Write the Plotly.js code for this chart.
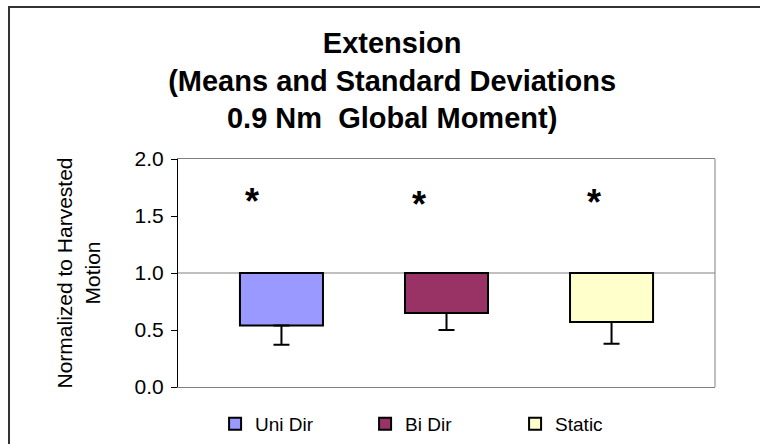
<!DOCTYPE html>
<html>
<head>
<meta charset="utf-8">
<script src="https://cdn.plot.ly/plotly-3.0.1.min.js"></script>
<style>
html,body{margin:0;padding:0;background:#fff;}
#chart{width:760px;height:444px;}
</style>
</head>
<body>
<div id="chart"></div>
<script>
// ---- data ----
var seriesNames = ["Uni Dir", "Bi Dir", "Static"];
var means = [0.54, 0.65, 0.57];
var stdDevs = [0.17, 0.15, 0.19];
var baseline = 1.0;           // value where the category axis crosses
var group = ["Extension"];    // single category
var seriesColors = ["#9999FF", "#993366", "#FFFFCC"];
var starLabels = ["*", "*", "*"];
var starY = [1.673, 1.646, 1.664];
var starXPaper = [0.138, 0.449, 0.775];
var yTickVals = [0, 0.5, 1.0, 1.5, 2.0];

var FONT = "Liberation Sans, Arial, sans-serif";

var traces = seriesNames.map(function (nm, i) {
  return {
    type: "bar",
    name: nm,
    x: group,
    y: [means[i] - baseline],
    base: [baseline],
    marker: { color: seriesColors[i], line: { color: "#000", width: 2 } },
    error_y: {
      type: "data", symmetric: false,
      array: [0], arrayminus: [stdDevs[i]],
      color: "#000", thickness: 2, width: 8
    },
    hoverinfo: "skip"
  };
});

var annotations = starLabels.map(function (s, i) {
  return {
    xref: "paper", yref: "y", x: starXPaper[i], y: starY[i],
    text: "<b>" + s + "</b>", showarrow: false, xanchor: "center", yanchor: "middle",
    font: { family: FONT, size: 36, color: "#000" }, yshift: -5
  };
});

var layout = {
  width: 760, height: 444,
  margin: { l: 178, r: 45, t: 159, b: 57, pad: 0, autoexpand: false },
  paper_bgcolor: "#fff", plot_bgcolor: "#fff",
  font: { family: FONT, color: "#000" },
  title: {
    text: "<b>Extension<br>(Means and Standard Deviations<br>0.9 Nm  Global Moment)</b>",
    font: { family: FONT, size: 29, color: "#000" },
    xref: "container", yref: "container", x: 0.516, y: 0.881,
    xanchor: "center", yanchor: "middle"
  },
  barmode: "group", bargap: 0.078, bargroupgap: 0.497,
  showlegend: true,
  legend: {
    orientation: "h", xref: "container", yref: "container",
    x: 0.283, xanchor: "left", y: 0.045, yanchor: "middle",
    font: { family: FONT, size: 19, color: "#000" },
    entrywidth: 105, traceorder: "normal", bgcolor: "rgba(0,0,0,0)"
  },
  xaxis: {
    type: "category", showticklabels: false, ticks: "",
    showgrid: false, zeroline: false,
    showline: true, mirror: true, linecolor: "#808080", linewidth: 1,
    fixedrange: true
  },
  yaxis: {
    range: [0, 2], tickvals: yTickVals, tickformat: ".1f",
    ticks: "outside", ticklen: 6, tickwidth: 1, tickcolor: "#000",
    ticklabelstandoff: 3,
    tickfont: { family: FONT, size: 21, color: "#000" },
    showgrid: false, zeroline: false,
    showline: true, linecolor: "#000", linewidth: 1,
    title: {
      text: "Normalized to Harvested<br>Motion",
      font: { family: FONT, size: 21, color: "#000" },
      standoff: 28
    },
    fixedrange: true
  },
  shapes: [
    { type: "line", xref: "paper", yref: "paper", x0: 1, x1: 1, y0: 0, y1: 1,
      line: { color: "#808080", width: 1 } },
    { type: "line", xref: "paper", yref: "y", x0: 0, x1: 1, y0: baseline, y1: baseline,
      line: { color: "#808080", width: 1 }, layer: "below" },
    { type: "rect", xref: "paper", yref: "paper", x0: -0.3147, x1: 2, y0: -1, y1: 1.667,
      line: { color: "#333", width: 2 }, fillcolor: "rgba(0,0,0,0)" }
  ],
  annotations: annotations,
  hovermode: false
};

Plotly.newPlot("chart", traces, layout, { displayModeBar: false, staticPlot: true });
</script>
</body>
</html>
